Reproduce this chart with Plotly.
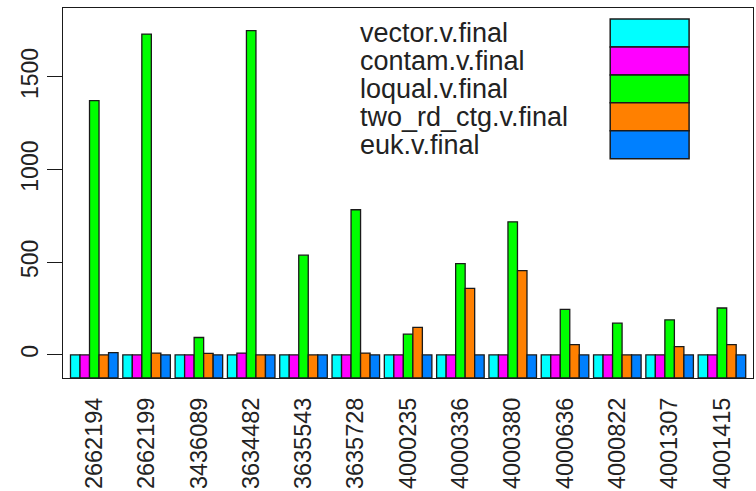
import plotly.graph_objects as go

# Sample IDs along the x axis
categories = ["2662194", "2662199", "3436089", "3634482", "3635543", "3635728",
              "4000235", "4000336", "4000380", "4000636", "4000822", "4001307",
              "4001415"]

# Counts per sample for each final vector category
vector_v_final = [0, 0, 0, 0, 0, 0, 0, 0, 0, 0, 0, 0, 0]
contam_v_final = [0, 0, 0, 10, 0, 0, 0, 0, 0, 0, 0, 0, 0]
loqual_v_final = [1372, 1731, 94, 1750, 538, 783, 112, 493, 718, 246, 171, 189, 253]
two_rd_ctg_v_final = [0, 10, 8, 0, 0, 10, 149, 359, 455, 56, 0, 45, 55]
euk_v_final = [12, 0, 0, 0, 0, 0, 0, 0, 0, 0, 0, 0, 0]

series_names = ["vector.v.final", "contam.v.final", "loqual.v.final",
                "two_rd_ctg.v.final", "euk.v.final"]
series_values = [vector_v_final, contam_v_final, loqual_v_final,
                 two_rd_ctg_v_final, euk_v_final]
series_colors = ["#00FFFF", "#FF00FF", "#00FF00", "#FF8000", "#0080FF"]

y_ticks = [0, 500, 1000, 1500]
Y_MIN, Y_MAX = -124.6, 1871.6

FONT = "Liberation Sans, Arial, Helvetica, sans-serif"
TEXT_COLOR = "#222"

fig = go.Figure()
for name, vals, col in zip(series_names, series_values, series_colors):
    # bars rise from the bottom of the plotting region up to each value
    fig.add_trace(go.Bar(
        x=categories,
        y=[v - Y_MIN for v in vals],
        base=Y_MIN,
        name=name,
        marker=dict(color=col, line=dict(color="#1a1a1a", width=1.3)),
        showlegend=False,
    ))

# legend: labels on the left, stacked colour boxes on the right
row_h = 28.1 / 371.7
top = (380 - 19.3) / 371.7
for i, (name, col) in enumerate(zip(series_names, series_colors)):
    y1 = top - i * row_h
    y0 = y1 - row_h
    fig.add_shape(type="rect", xref="paper", yref="paper",
                  x0=(611 - 63) / 691, x1=(690 - 63) / 691, y0=y0, y1=y1,
                  fillcolor=col, line=dict(color="#1a1a1a", width=1.5))
    fig.add_annotation(xref="paper", yref="paper", x=(358 - 63) / 691,
                       y=(y0 + y1) / 2, text=name, showarrow=False,
                       xanchor="left", yanchor="middle",
                       font=dict(family=FONT, size=27, color=TEXT_COLOR))

fig.update_layout(
    width=756, height=491,
    margin=dict(l=63, r=2, t=8, b=111),
    paper_bgcolor="white", plot_bgcolor="white",
    barmode="group", bargap=0.0909, bargroupgap=0,
    font=dict(family=FONT, color=TEXT_COLOR),
)
fig.update_xaxes(
    type="category", range=[-0.598, 12.594],
    showline=True, mirror=True, linecolor="#1a1a1a", linewidth=1.4,
    showgrid=False, zeroline=False, ticks="", tickangle=-90,
    tickfont=dict(family=FONT, size=23.5, color=TEXT_COLOR),
    ticklabelstandoff=9,
)
fig.update_yaxes(
    range=[Y_MIN, Y_MAX], tickvals=y_ticks, ticktext=[str(t) for t in y_ticks],
    showline=True, mirror=True, linecolor="#1a1a1a", linewidth=1.4,
    showgrid=False, zeroline=False, ticks="outside", ticklen=15,
    tickcolor="#1a1a1a", tickwidth=1.4, tickangle=-90,
    tickfont=dict(family=FONT, size=23, color=TEXT_COLOR),
)

fig.write_html("out.html")
